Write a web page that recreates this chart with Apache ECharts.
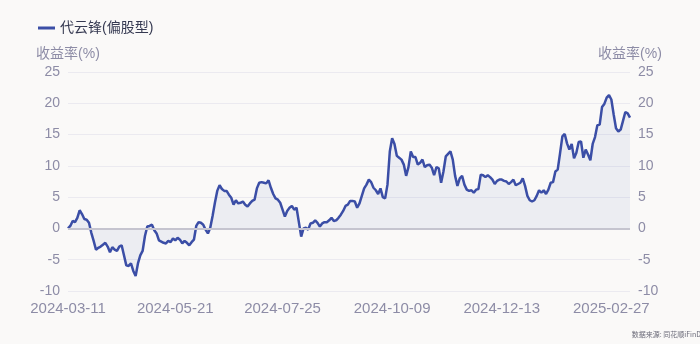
<!DOCTYPE html>
<html>
<head>
<meta charset="utf-8">
<script src="https://cdn.jsdelivr.net/npm/echarts@6/dist/echarts.min.js"></script>
<style>
html,body{margin:0;padding:0;background:#faf9f8;}
#c{width:700px;height:344px;}
</style>
</head>
<body>
<div id="c"></div>
<script>
// Trading-day calendar (weekdays, minus exchange holidays)
const startDate = '2024-03-11';
const endDate = '2025-03-11';
const holidays = ['2024-04-04','2024-04-05','2024-05-01','2024-05-02','2024-05-03','2024-06-10',
  '2024-09-16','2024-09-17','2024-10-01','2024-10-02','2024-10-03','2024-10-04','2024-10-07',
  '2025-01-01','2025-01-28','2025-01-29','2025-01-30','2025-01-31','2025-02-03','2025-02-04'];
const tickLabels = ['2024-03-11','2024-05-21','2024-07-25','2024-10-09','2024-12-13','2025-02-27'];
const seriesName = '代云锋(偏股型)';
const yTicks = [-10, -5, 0, 5, 10, 15, 20, 25];

const returns = [
0,0.4,1.2,1.0,1.7,2.9,2.3,1.5,1.4,0.9,
-0.7,-2.0,-3.4,-3.1,-2.9,-2.6,-2.3,-2.9,-3.8,-3.0,
-3.4,-3.6,-2.9,-2.7,-4.3,-5.9,-6.0,-5.6,-6.8,-7.6,
-5.6,-4.3,-3.6,-1.2,0.3,0.4,0.6,-0.3,-0.8,-1.9,
-2.1,-2.3,-2.4,-2.0,-2.2,-1.6,-1.9,-1.5,-1.8,-2.4,
-2.0,-2.3,-2.7,-2.2,-1.8,0.4,1.0,0.9,0.6,-0.2,
-0.8,0.1,2.0,4.1,6.0,6.9,6.3,6.0,6.0,5.4,
4.9,3.8,4.5,4.0,4.1,4.3,3.8,3.5,4.0,4.4,
4.6,6.4,7.3,7.4,7.3,7.2,7.7,6.5,5.5,4.8,
4.6,4.1,3.0,1.9,2.8,3.3,3.6,3.0,3.3,1.0,
-1.3,0.0,0.1,-0.2,0.8,0.9,1.3,0.9,0.3,0.8,
1.0,1.0,1.3,1.7,1.2,1.3,1.7,2.2,2.8,3.6,
3.8,4.4,4.4,4.3,3.3,4.0,5.2,6.4,7.0,7.8,
7.4,6.5,6.1,5.5,6.4,5.0,4.8,7.0,12.3,14.4,
13.5,11.6,11.3,11.0,10.2,8.4,9.8,12.3,11.4,11.4,
10.2,10.5,11.0,9.8,10.1,10.2,9.7,8.5,9.8,9.6,
7.3,9.1,11.5,11.9,12.3,11.0,8.4,6.8,8.0,8.4,
7.0,6.2,6.0,6.1,5.7,6.2,6.3,8.6,8.5,8.2,
8.5,8.2,7.8,7.1,7.6,7.8,7.8,7.6,7.5,7.1,
7.4,7.8,6.9,7.1,7.3,8.0,6.8,5.2,4.5,4.3,
4.5,5.2,6.1,5.7,6.1,5.5,6.2,7.3,7.4,9.1,
9.4,12.0,14.7,15.1,13.6,12.6,13.5,11.2,12.1,13.8,
13.9,11.3,12.6,11.8,10.9,13.5,14.6,16.5,16.6,19.4,
19.9,20.9,21.3,20.6,18.2,16.0,15.5,15.8,17.2,18.6,
18.4,17.7
];

function pad(n){return n<10?'0'+n:''+n;}
function buildDates(){
  const out=[];
  const d=new Date(startDate+'T00:00:00Z');
  const end=new Date(endDate+'T00:00:00Z');
  while(d<=end){
    const s=d.getUTCFullYear()+'-'+pad(d.getUTCMonth()+1)+'-'+pad(d.getUTCDate());
    const wd=d.getUTCDay();
    if(wd!==0&&wd!==6&&holidays.indexOf(s)<0) out.push(s);
    d.setUTCDate(d.getUTCDate()+1);
  }
  return out;
}
const dates = buildDates();

const FONT = "'Liberation Sans','Noto Sans CJK SC',sans-serif";
const axisColor = '#8d8ca6';
const chart = echarts.init(document.getElementById('c'), null, {renderer:'canvas'});
const yCommon = {
  type:'value', min:-10, max:25, interval:5,
  name:'收益率(%)', nameLocation:'end', nameGap:11,
  nameTextStyle:{color:axisColor, fontSize:14, fontFamily:FONT},
  axisLine:{show:false}, axisTick:{show:false},
  axisLabel:{color:axisColor, fontSize:14, fontFamily:FONT, margin:8},
  splitLine:{lineStyle:{color:'#ebeaf0', width:1}}
};
chart.setOption({
  backgroundColor:'#faf9f8',
  animation:false,
  legend:{
    left:33, top:16, icon:'rect', itemWidth:17, itemHeight:3, itemGap:10,
    textStyle:{color:'#363a52', fontSize:14, fontFamily:FONT},
    data:[seriesName]
  },
  grid:{left:68, right:70, top:72, bottom:53},
  xAxis:{
    type:'category', data:dates, boundaryGap:false,
    axisLine:{show:false, onZero:false}, axisTick:{show:false},
    axisLabel:{
      color:axisColor, fontSize:15, fontFamily:FONT, margin:10,
      interval:function(i,v){return tickLabels.indexOf(v)>=0;}
    },
    splitLine:{show:false}
  },
  yAxis:[
    Object.assign({}, yCommon, {position:'left'}),
    Object.assign({}, yCommon, {position:'right', splitLine:{show:false}})
  ],
  graphic:[{
    type:'text', right:-1, bottom:6,
    style:{text:'数据来源: 同花顺iFinD', fill:'#6a6a78', font:"7px 'Noto Sans CJK SC',sans-serif"}
  }],
  series:[{
    name:seriesName, type:'line', data:returns, yAxisIndex:0,
    showSymbol:false, symbol:'none',
    lineStyle:{color:'#3b4ea6', width:2.5},
    itemStyle:{color:'#3b4ea6'},
    areaStyle:{color:'rgba(59,78,166,0.10)'},
    markLine:{
      silent:true, symbol:'none', label:{show:false},
      lineStyle:{color:'#c5c4cf', width:2, type:'solid'},
      data:[{yAxis:0}]
    }
  }]
});
</script>
</body>
</html>
